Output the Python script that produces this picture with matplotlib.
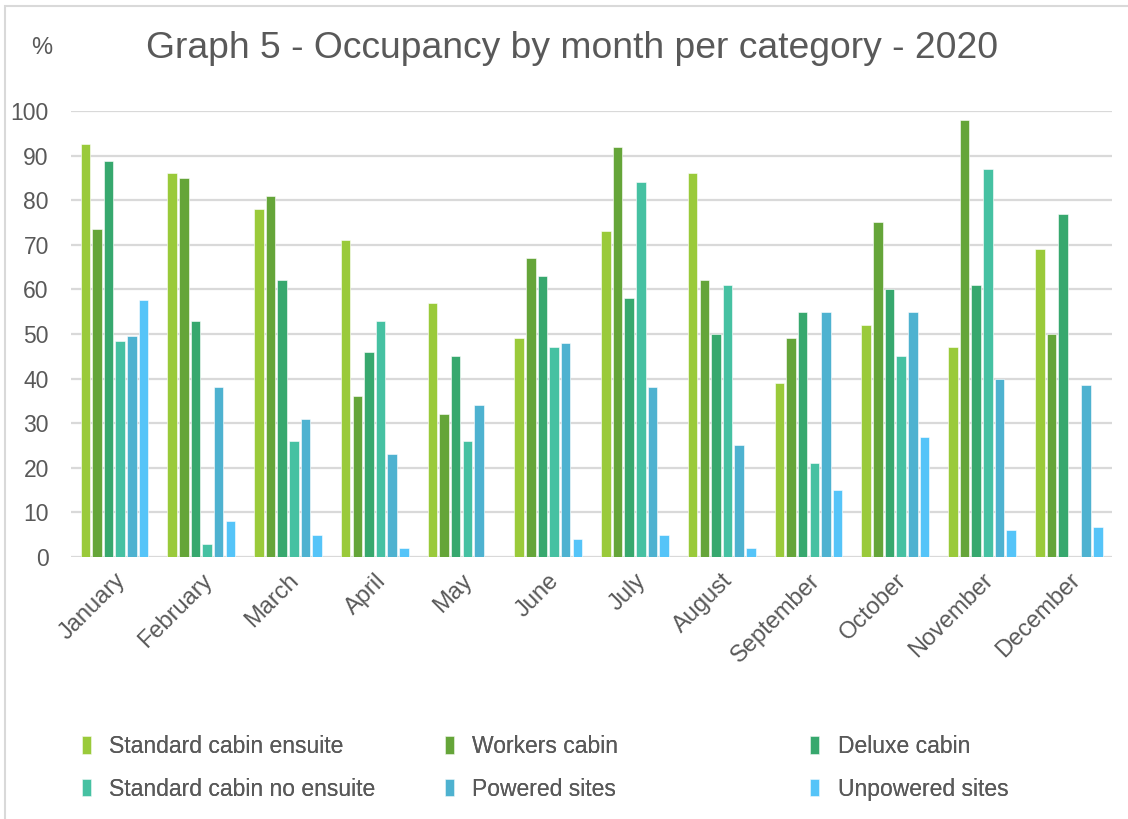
import numpy as np
import matplotlib.pyplot as plt
from matplotlib.patches import Rectangle

plt.rcParams['font.family'] = ['Liberation Sans', 'DejaVu Sans']

months = ["January", "February", "March", "April", "May", "June",
          "July", "August", "September", "October", "November", "December"]

std_ensuite = [92.5, 86, 78, 71, 57, 49, 73, 86, 39, 52, 47, 69]
workers = [73.5, 85, 81, 36, 32, 67, 92, 62, 49, 75, 98, 50]
deluxe = [88.8, 53, 62, 46, 45, 63, 58, 50, 55, 60, 61, 77]
std_no_ensuite = [48.5, 3, 26, 53, 26, 47, 84, 61, 21, 45, 87, 0]
powered = [49.5, 38, 31, 23, 34, 48, 38, 25, 55, 55, 40, 38.6]
unpowered = [57.7, 8, 5, 2, 0, 4, 5, 2, 15, 27, 6, 6.7]

series = [std_ensuite, workers, deluxe, std_no_ensuite, powered, unpowered]
names = ["Standard cabin ensuite", "Workers cabin", "Deluxe cabin",
         "Standard cabin no ensuite", "Powered sites", "Unpowered sites"]
colors = ["#9ACA3A", "#65A539", "#37A86E", "#46C1A2", "#4EB2D0", "#55C4F8"]

txt = "#595959"
grid = "#D9D9D9"

fig = plt.figure(figsize=(11.28, 8.19), dpi=100)
ax = fig.add_axes([0.063, 0.320, 0.923, 0.5445])

x = np.arange(len(months))
step = 0.134
bars = []
for i, (vals, name, c) in enumerate(zip(series, names, colors)):
    b = ax.bar(x + (i - 2.5) * step, vals, width=step * 0.82, color=c,
               edgecolor="white", linewidth=0.4, label=name, zorder=3)
    bars.append(b)

ax.set_xlim(-0.5, 11.5)
ax.set_ylim(0, 100)
ax.set_yticks(range(0, 101, 10))
ax.yaxis.grid(True, color=grid, linewidth=1.6, zorder=0)
ax.set_axisbelow(True)
for s in ax.spines.values():
    s.set_visible(False)
ax.tick_params(axis="both", length=0, labelcolor=txt)
ax.tick_params(axis="y", pad=16, labelsize=16.5)
ax.set_xticks(x)
ax.set_xticklabels(months, rotation=45, ha="right", rotation_mode="anchor")
ax.tick_params(axis="x", pad=9, labelsize=17)

fig.text(0.507, 0.941, "Graph 5 - Occupancy by month per category - 2020",
         ha="center", va="center", fontsize=26.8, color=txt)
fig.text(0.037, 0.941, "%", ha="center", va="center", fontsize=17, color=txt)

# legend laid out as three columns of two rows
col_x = [0.054, 0.376, 0.700]
for k in range(3):
    hs = [bars[k], bars[k + 3]]
    leg = fig.legend(hs, [names[k], names[k + 3]], loc="upper left",
                     bbox_to_anchor=(col_x[k], 0.128), frameon=False,
                     fontsize=16.5, labelcolor=txt, handlelength=0.4, handleheight=0.8,
                     handletextpad=0.8, labelspacing=0.86)
    fig.add_artist(leg)

# chart border
fig.patches.append(Rectangle((5 / 1128, -0.1), 1.2, 1 - 6 / 819 + 0.1,
                             transform=fig.transFigure, fill=False,
                             edgecolor=grid, linewidth=1.5))

fig.savefig("out.png", dpi=100)
